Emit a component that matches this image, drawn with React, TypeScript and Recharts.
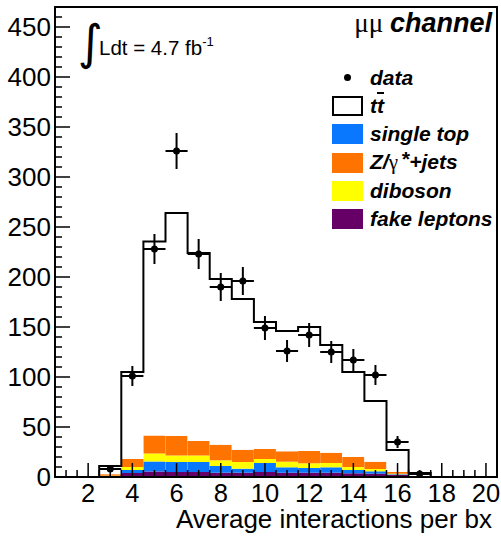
import { ComposedChart, Bar, Line, Scatter, ErrorBar, XAxis, YAxis, ReferenceArea, Legend } from 'recharts';

// bin centres (average interactions per bx)
const bins = [1, 2, 3, 4, 5, 6, 7, 8, 9, 10, 11, 12, 13, 14, 15, 16, 17, 18, 19, 20];

// stacked MC, bottom to top
const fakeLeptons = [0, 0, 0.5, 4, 5.5, 5, 5, 4.3, 4.3, 5, 4.3, 4.3, 4.3, 3.7, 3.3, 2, 0.2, 0, 0, 0];
const singleTop = [0, 0, 0.5, 3, 10, 10, 10, 6.7, 4, 9, 5.4, 4.7, 5.4, 3.3, 2.4, 0.7, 0.2, 0, 0, 0];
const diboson = [0, 0, 0.3, 3, 8, 6.5, 6.5, 5.7, 6.7, 4, 5.6, 4.7, 4.3, 3, 2.3, 0.6, 0.1, 0, 0, 0];
const zJets = [0, 0, 1.5, 8, 18, 19.5, 14.5, 15.6, 12.3, 10, 10.4, 12.3, 10.3, 10, 7.3, 1.7, 0.5, 0, 0, 0];
const ttbar = [0, 0, 8.2, 87, 194, 223, 188, 165.7, 150.7, 127, 120.3, 124, 107.7, 85, 60.7, 22, 3, 0, 0, 0];

// data points
const dataBins = [3, 4, 5, 6, 7, 8, 9, 10, 11, 12, 13, 14, 15, 16, 17];
const dataCounts = [8, 101, 228, 326, 223, 190, 196, 149, 126, 142, 125, 117, 102, 35, 3];
const dataErrors = [3, 10, 15, 18, 15, 14, 14, 12, 11, 12, 11, 11, 10, 6, 1.7];

const xTickLabels = [2, 4, 6, 8, 10, 12, 14, 16, 18, 20];
const yTickLabels = [0, 50, 100, 150, 200, 250, 300, 350, 400, 450];

const legendNames = ['data', 'tt', 'single top', 'Z/γ*+jets', 'diboson', 'fake leptons'];
const legendColors = ['#000000', '#ffffff', '#0a77ff', '#ff7300', '#ffff00', '#660066'];

const table = bins.map((bin, i) => ({
  bin,
  fake: fakeLeptons[i],
  stop: singleTop[i],
  dib: diboson[i],
  zj: zJets[i],
  tt: ttbar[i],
  total: fakeLeptons[i] + singleTop[i] + diboson[i] + zJets[i] + ttbar[i],
}));

const points = dataBins.map((bin, i) => ({ bin, y: dataCounts[i], err: dataErrors[i], xerr: 0.5 }));

const xTicks = Array.from({ length: 39 }, (_, i) => 1 + i * 0.5);
const yTicks = Array.from({ length: 47 }, (_, i) => i * 10);

const font = '"Liberation Sans", Arial, sans-serif';

const XTick = ({ x, y, payload }: any) => {
  const v = payload.value;
  const major = xTickLabels.includes(v);
  return (
    <g>
      <line x1={x} x2={x} y1={y} y2={y - (major ? 14 : 7)} stroke="#000" strokeWidth={1.5} />
      {major && (
        <text x={x} y={y + 25} textAnchor="middle" fontSize={25.5} fontFamily={font} fill="#000">
          {v}
        </text>
      )}
    </g>
  );
};

const YTick = ({ x, y, payload }: any) => {
  const v = payload.value;
  const major = yTickLabels.includes(v);
  return (
    <g>
      <line x1={x} x2={x + (major ? 15 : 7)} y1={y} y2={y} stroke="#000" strokeWidth={1.5} />
      {major && (
        <text x={x - 4} y={y} dy="0.36em" textAnchor="end" fontSize={26} fontFamily={font} fill="#000">
          {v}
        </text>
      )}
    </g>
  );
};

const Dot = (props: any) => <circle cx={props.cx} cy={props.cy} r={3.5} fill="#000" />;

const renderLegend = () => (
  <div style={{ fontFamily: font, fontWeight: 'bold', fontStyle: 'italic', fontSize: 21, color: '#000' }}>
    {legendNames.map((name, i) => (
      <div key={name} style={{ display: 'flex', alignItems: 'center', height: 28.3 }}>
        <div style={{ width: 31, height: 20, marginRight: 7, display: 'flex', alignItems: 'center', justifyContent: 'center' }}>
          {i === 0 ? (
            <div style={{ width: 7, height: 7, borderRadius: 4, background: '#000' }} />
          ) : (
            <div
              style={{
                width: i === 1 ? 27 : 31,
                height: i === 1 ? 16 : 20,
                background: legendColors[i],
                border: i === 1 ? '2px solid #000' : 'none',
              }}
            />
          )}
        </div>
        <span>
          {i === 1 ? (
            <>
              t<span style={{ textDecoration: 'overline' }}>t</span>
            </>
          ) : i === 3 ? (
            <>
              Z/<span style={{ fontFamily: '"Liberation Serif", serif', fontWeight: 'normal', fontStyle: 'normal' }}>γ</span>
              <span style={{ position: 'relative', top: -3, marginLeft: 3 }}>*</span>+jets
            </>
          ) : (
            name
          )}
        </span>
      </div>
    ))}
  </div>
);

export default function App() {
  return (
    <div style={{ position: 'absolute', left: 0, top: 0, width: 501, height: 537, background: '#fff' }}>
      <ComposedChart
        width={501}
        height={537}
        data={table}
        margin={{ top: 7, right: 4, left: 0, bottom: 0 }}
        barCategoryGap={0}
        barGap={0}
      >
        <XAxis
          xAxisId="num"
          type="number"
          dataKey="bin"
          domain={[0.5, 20.5]}
          ticks={xTicks}
          interval={0}
          allowDataOverflow
          height={60}
          tickSize={0}
          tickMargin={0}
          tick={<XTick />}
          axisLine={{ stroke: '#000', strokeWidth: 2 }}
        />
        <XAxis xAxisId="bins" type="category" dataKey="bin" hide height={0} />
        <YAxis
          type="number"
          domain={[0, 470]}
          ticks={yTicks}
          interval={0}
          allowDataOverflow
          width={55}
          tickSize={0}
          tickMargin={0}
          tick={<YTick />}
          axisLine={{ stroke: '#000', strokeWidth: 2 }}
        />
        <Bar xAxisId="bins" dataKey="fake" stackId="s" fill={legendColors[5]} isAnimationActive={false} />
        <Bar xAxisId="bins" dataKey="stop" stackId="s" fill={legendColors[2]} isAnimationActive={false} />
        <Bar xAxisId="bins" dataKey="dib" stackId="s" fill={legendColors[4]} isAnimationActive={false} />
        <Bar xAxisId="bins" dataKey="zj" stackId="s" fill={legendColors[3]} isAnimationActive={false} />
        <Bar xAxisId="bins" dataKey="tt" stackId="s" fill="#ffffff" isAnimationActive={false} />
        <Line
          xAxisId="bins"
          type="step"
          dataKey="total"
          stroke="#000"
          strokeWidth={2}
          dot={false}
          isAnimationActive={false}
        />
        <Scatter xAxisId="num" data={points} dataKey="y" shape={<Dot />} isAnimationActive={false}>
          <ErrorBar dataKey="err" direction="y" width={0} stroke="#000" strokeWidth={2} />
          <ErrorBar dataKey="xerr" direction="x" width={0} stroke="#000" strokeWidth={2} />
        </Scatter>
        <ReferenceArea
          xAxisId="num"
          x1={0.5}
          x2={20.5}
          y1={0}
          y2={470}
          fill="none"
          stroke="#000"
          strokeWidth={2}
          ifOverflow="visible"
        />
        <Legend
          layout="vertical"
          align="center"
          verticalAlign="middle"
          content={renderLegend}
          wrapperStyle={{ position: 'absolute', left: 332, top: 63.5, width: 170 }}
        />
      </ComposedChart>
      <svg
        width={501}
        height={537}
        style={{ position: 'absolute', left: 0, top: 0, pointerEvents: 'none' }}
      >
        <text x={78} y={59} fontSize={48} fontFamily='"DejaVu Sans", sans-serif' fill="#000">
          ∫
        </text>
        <text x={99} y={55} fontSize={20.5} fontFamily={font} fill="#000">
          Ldt = 4.7 fb
          <tspan fontSize={13} dy={-9}>-1</tspan>
        </text>
        <text x={492} y={32} textAnchor="end" fill="#000">
          <tspan fontFamily='"Liberation Serif", serif' fontSize={27}>μμ </tspan>
          <tspan fontFamily={font} fontWeight="bold" fontStyle="italic" fontSize={27}>
            channel
          </tspan>
        </text>
        <text x={492} y={528} textAnchor="end" fontSize={26} fontFamily={font} fill="#000">
          Average interactions per bx
        </text>
      </svg>
    </div>
  );
}
